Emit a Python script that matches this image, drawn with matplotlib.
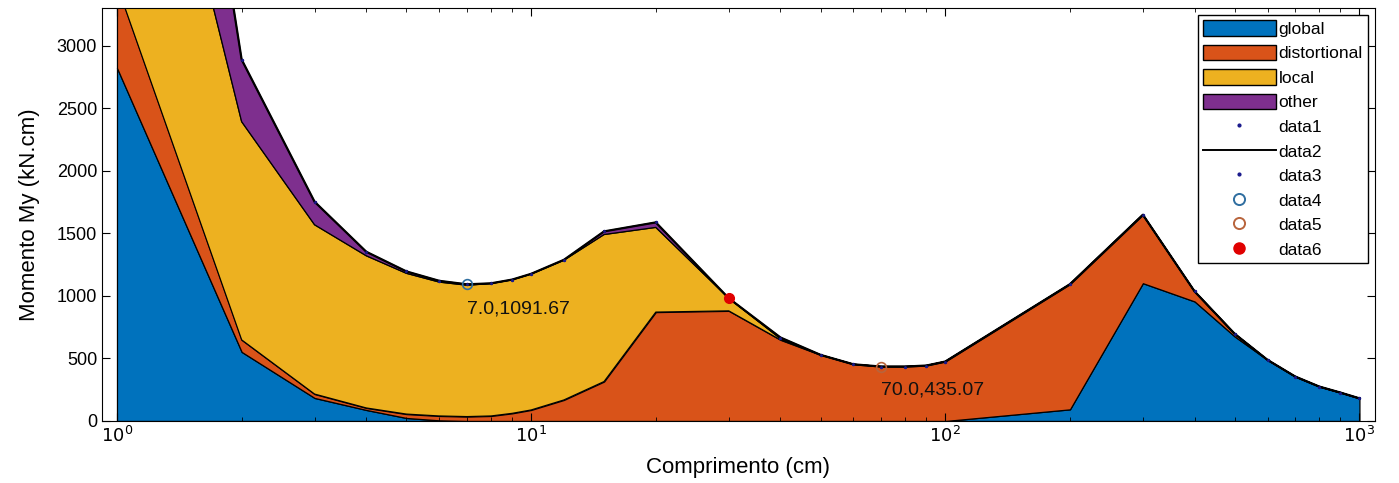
import matplotlib.pyplot as plt
import numpy as np
from matplotlib.lines import Line2D
from matplotlib.patches import Patch

plt.rcParams['font.family'] = ['Liberation Sans', 'DejaVu Sans']

# comprimento (cm)
comp = [1, 2, 3, 4, 5, 6, 7, 8, 9, 10, 12, 15, 20, 30, 40, 50, 60, 70, 80, 90,
        100, 200, 300, 400, 500, 600, 700, 800, 900, 1000]
# stacked contributions (kN.cm)
glob = [2821, 552, 184, 88, 24, 5, 0, 0, 0, 0, 0, 0, 0, 0, 0, 0, 0, 0, 0, 0,
        0, 93, 1101, 955, 675, 488, 355, 275, 227, 181]
dist = [662, 96, 31, 16, 31, 35, 35, 40, 61, 88, 168, 315, 870, 880, 648, 528,
        453, 435, 435, 443, 475, 1000, 547, 80, 21, 0, 0, 0, 0, 0]
local = [2927, 1744, 1353, 1216, 1125, 1070, 1050, 1058, 1067, 1086, 1117, 1175,
         677, 101, 10, 0, 0, 0, 0, 0, 0, 0, 0, 0, 0, 0, 0, 0, 0, 0]
other = [2820, 496, 184, 32, 15, 10, 7, 2, 2, 2, 3, 25, 40, 0, 9, 0, 0, 0, 0, 0,
         0, 0, 0, 0, 0, 0, 0, 0, 0, 0]

total = np.array(glob) + np.array(dist) + np.array(local) + np.array(other)

pt4 = (7.0, 1091.67)
pt5 = (70.0, 435.07)
pt6 = (30.0, 981.0)

cores = ['#0072BD', '#D95319', '#EDB120', '#7E2F8E']
nomes = ['global', 'distortional', 'local', 'other']

fig = plt.figure(figsize=(13.99, 4.83), dpi=100)
ax = fig.add_axes([0.0729, 0.1284, 0.9099, 0.855])

ax.stackplot(comp, glob, dist, local, other, colors=cores,
             edgecolor='k', linewidth=0.9)
ax.plot(comp, total, '.', color='#1a1a8c', markersize=3)
ax.plot(comp, total, '-', color='k', linewidth=1.6)
ax.plot(comp, total, '.', color='#1a1a8c', markersize=2)
ax.plot(*pt4, 'o', mfc='none', mec='#2f6ea0', markersize=7, mew=1.2)
ax.plot(*pt5, 'o', mfc='none', mec='#b8643c', markersize=7, mew=1.2)
ax.plot(*pt6, 'o', color='#e00000', markersize=7)

ax.text(7.0, 896, '7.0,1091.67', fontsize=14, va='center', ha='left', color='#111111')
ax.text(70.0, 248, '70.0,435.07', fontsize=14, va='center', ha='left', color='#111111')

ax.set_xscale('log')
ax.set_xlim(0.92, 1090)
ax.set_ylim(0, 3300)
ax.set_yticks(np.arange(0, 3001, 500))
ax.set_xticks([1, 10, 100, 1000])
ax.set_xticklabels([r'$10^0$', r'$10^1$', r'$10^2$', r'$10^3$'])
ax.tick_params(which='both', direction='in', top=True, right=True, labelsize=13)
ax.tick_params(which='major', length=6)
ax.tick_params(which='minor', length=3)
ax.set_xlabel('Comprimento (cm)', fontsize=16, labelpad=8)
ax.set_ylabel('Momento My (kN.cm)', fontsize=16, labelpad=12)

handles = [Patch(facecolor=c, edgecolor='k', label=n) for c, n in zip(cores, nomes)]
handles += [
    Line2D([], [], ls='none', marker='.', color='#1a1a8c', markersize=4, label='data1'),
    Line2D([], [], color='k', lw=1.4, label='data2'),
    Line2D([], [], ls='none', marker='.', color='#1a1a8c', markersize=4, label='data3'),
    Line2D([], [], ls='none', marker='o', mfc='none', mec='#2f6ea0', markersize=8, mew=1.4, label='data4'),
    Line2D([], [], ls='none', marker='o', mfc='none', mec='#b8643c', markersize=8, mew=1.4, label='data5'),
    Line2D([], [], ls='none', marker='o', color='#e00000', markersize=8, label='data6'),
]
leg = ax.legend(handles=handles, loc='upper right', fontsize=12.5, fancybox=False,
                edgecolor='k', framealpha=1, borderpad=0.3, labelspacing=0.45,
                handlelength=4.2, handleheight=1.0, handletextpad=0.15,
                borderaxespad=0.4)
leg.get_frame().set_linewidth(1.0)

fig.savefig('out.png', dpi=100)
